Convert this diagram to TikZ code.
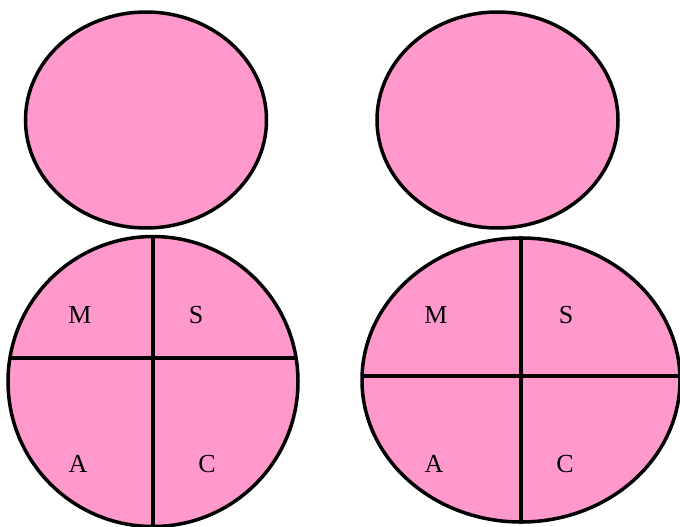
\documentclass[tikz,border=0pt]{standalone}
\usepackage{fontspec}
\setmainfont{Liberation Serif}
\usetikzlibrary{shapes.geometric, calc}
\definecolor{blobpink}{RGB}{255,153,204}

\begin{document}
\begin{tikzpicture}[
    x=1pt, y=-1pt,
    blob/.style={draw, ellipse, fill=blobpink, line width=3.5pt, inner sep=0pt},
    split/.style={line width=4pt},
    letter/.style={font=\fontsize{26}{26}\selectfont}
]
\useasboundingbox (0,0) rectangle (680,527);
\node[blob, minimum width=241pt, minimum height=216pt] (TopLeft) at (146, 120) {};
\node[blob, minimum width=241pt, minimum height=216pt] (TopRight) at (497.5, 120) {};
\node[blob, minimum width=290pt, minimum height=290pt] (BottomLeft) at (153, 381.5) {};
\node[blob, minimum width=318pt, minimum height=284pt] (BottomRight) at (521, 380) {};

\draw[split] (BottomLeft.north) -- (BottomLeft.south);
\draw[split] ($(BottomLeft.center)+(-143.1,-24)$) -- ($(BottomLeft.center)+(143.1,-24)$);
\draw[split] (BottomRight.north) -- (BottomRight.south);
\draw[split] ($(BottomRight.center)+(-158.9,-4)$) -- ($(BottomRight.center)+(158.9,-4)$);

\node[letter] (LeftM) at (80, 315) {M};
\node[letter] (LeftS) at (196, 315) {S};
\node[letter] (LeftA) at (78, 464) {A};
\node[letter] (LeftC) at (207, 464) {C};
\node[letter] (RightM) at (436, 315) {M};
\node[letter] (RightS) at (566, 315) {S};
\node[letter] (RightA) at (434, 464) {A};
\node[letter] (RightC) at (565, 464) {C};
\end{tikzpicture}
\end{document}
